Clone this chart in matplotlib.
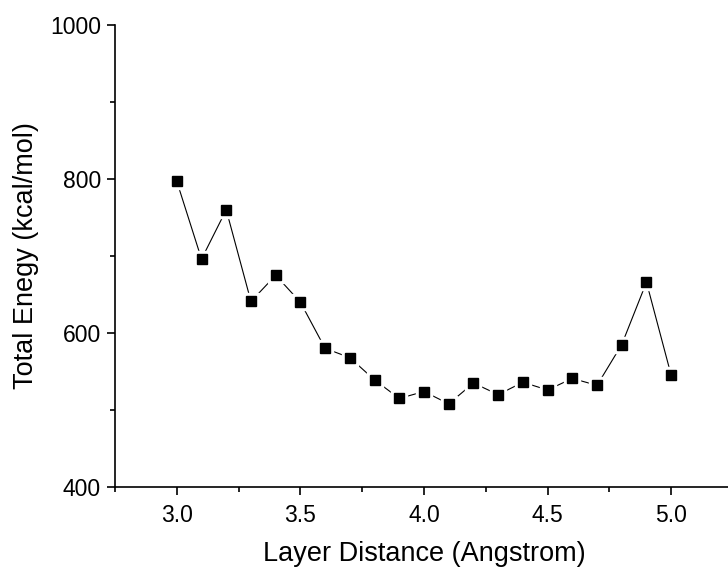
import numpy as np
import matplotlib
matplotlib.use('Agg')
import matplotlib.pyplot as plt
from matplotlib.ticker import MultipleLocator

plt.rcParams['font.family'] = ['Liberation Sans', 'DejaVu Sans']

distance = [3.0, 3.1, 3.2, 3.3, 3.4, 3.5, 3.6, 3.7, 3.8, 3.9, 4.0,
            4.1, 4.2, 4.3, 4.4, 4.5, 4.6, 4.7, 4.8, 4.9, 5.0]
energy = [797, 696, 760, 641, 675, 640, 580, 568, 539, 515, 524,
          508, 535, 520, 536, 526, 541, 532, 585, 666, 545]

fig = plt.figure(figsize=(7.28, 5.70), dpi=100)
ax = fig.add_axes([115 / 728, 1 - 487 / 570, 618 / 728, 462 / 570])

ax.plot(distance, energy, color='black', lw=0.8, zorder=1)
# white squares give the small gaps between line and markers
ax.plot(distance, energy, ls='none', marker='s', ms=12, mfc='white', mec='white', zorder=2)
ax.plot(distance, energy, ls='none', marker='s', ms=7.3, mfc='black', mec='black', zorder=3)

ax.set_xlim(2.75, 5.25)
ax.set_ylim(400, 1000)
ax.xaxis.set_major_locator(MultipleLocator(0.5))
ax.xaxis.set_minor_locator(MultipleLocator(0.25))
ax.yaxis.set_major_locator(MultipleLocator(200))
ax.yaxis.set_minor_locator(MultipleLocator(100))
ax.xaxis.set_major_formatter(matplotlib.ticker.FormatStrFormatter('%.1f'))

for s in ['top', 'right']:
    ax.spines[s].set_visible(False)
for s in ['left', 'bottom']:
    ax.spines[s].set_linewidth(1.2)

ax.tick_params(which='major', direction='out', length=6, width=1.2, labelsize=16.5)
ax.tick_params(which='minor', direction='out', length=3.5, width=1.2)
ax.tick_params(axis='x', pad=6)
ax.tick_params(axis='y', pad=4)

ax.set_xlabel('Layer Distance (Angstrom)', fontsize=19.5, labelpad=10)
ax.set_ylabel('Total Enegy (kcal/mol)', fontsize=19.5, labelpad=8)

fig.savefig('out.png', dpi=100)
